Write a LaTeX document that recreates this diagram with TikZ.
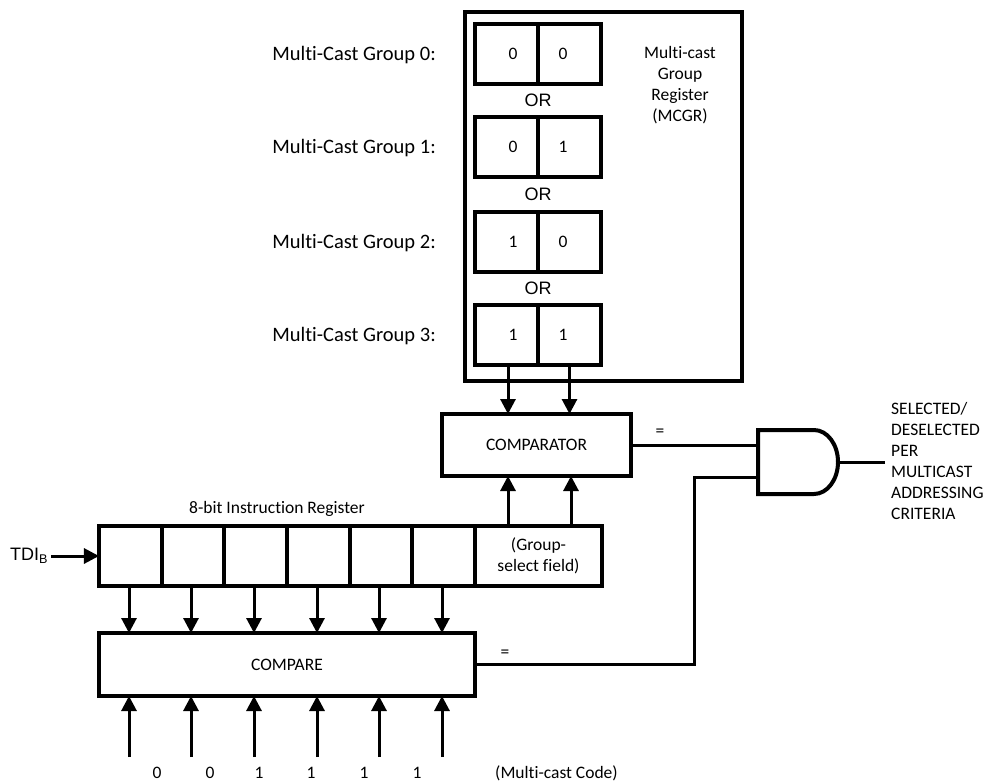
\documentclass[tikz,border=0pt]{standalone}
\usepackage{fontspec}
\setmainfont[Ligatures=NoCommon]{Carlito}
\newfontfamily\arialfont{Liberation Sans}
\usetikzlibrary{arrows.meta,positioning}
\tikzset{
    %Define standard arrow tip
    >={Triangle[length=15pt,width=15pt]},
    %Define style for boxes
    cell/.style={
           rectangle,
           draw=black, line width=4pt,
           outer sep=0pt,
           minimum height=60pt,
           font=\fontsize{17.5}{21}\selectfont,
           },
    bit/.style={
           cell,
           text width=22pt,
           inner xsep=20.5pt,
           },
    regcell/.style={
           cell,
           minimum width=62.67pt,
           inner sep=0pt,
           },
    block/.style={
           rectangle,
           draw=black, line width=4pt,
           outer sep=0pt,
           font=\fontsize{17.5}{21}\selectfont,
           },
    lab/.style={
           inner sep=0pt,
           font=\fontsize{17.5}{21}\selectfont,
           },
    grouplab/.style={
           inner sep=0pt,
           font=\fontsize{20.5}{24}\selectfont,
           },
    orlab/.style={
           inner sep=0pt,
           font=\arialfont\fontsize{18}{21}\selectfont,
           },
    % Define arrow style
    pil/.style={
           ->,
           line width=3pt,
           },
    wire/.style={
           line width=3pt,
           }
}
\begin{document}
\begin{tikzpicture}[x=1pt,y=-1pt]
\useasboundingbox (0,0) rectangle (985,782);
% multi-cast group register
\node[block,minimum width=277pt,minimum height=369pt](mcgr) at (603.5,196.5){};
\node[bit,align=right](m00) at (506.5,54){0};
\node[bit,align=left,right=0pt of m00](m01){0};
\node[bit,align=right,below=33pt of m00](m10){0};
\node[bit,align=left,right=0pt of m10](m11){1};
\node[bit,align=right,below=35pt of m10](m20){1};
\node[bit,align=left,right=0pt of m20](m21){0};
\node[bit,align=right,below=33pt of m20](m30){1};
\node[bit,align=left,right=0pt of m30](m31){1};
\node[orlab,below=10pt of m00.south east](or1){OR};
\node[orlab,below=11pt of m10.south east](or2){OR};
\node[orlab,below=10pt of m20.south east](or3){OR};
\node[grouplab,left=39pt of m00,yshift=-1pt](g0){Multi-Cast Group 0:};
\node[grouplab,left=39pt of m10,yshift=-1pt](g1){Multi-Cast Group 1:};
\node[grouplab,left=39pt of m20,yshift=-1pt](g2){Multi-Cast Group 2:};
\node[grouplab,left=39pt of m30,yshift=-1pt](g3){Multi-Cast Group 3:};
\node[lab,align=center](mname) at (680,85){Multi-cast\\Group\\Register\\(MCGR)};
% comparator and gate
\node[block,minimum width=189pt,minimum height=62pt](cp) at (536.5,445){COMPARATOR};
\node[inner sep=0pt,minimum width=80pt,minimum height=64pt,outer sep=0pt](gate) at (798,462){};
\draw[line width=4pt] (gate.north west) -- ++(56,0) arc[x radius=24pt,y radius=32pt,start angle=90,end angle=-90] -- (gate.south west) -- cycle;
\node[lab,align=left,anchor=west](sel) at (891,461){SELECTED/\\DESELECTED\\PER\\MULTICAST\\ADDRESSING\\CRITERIA};
\coordinate(selend) at (885,462);
% instruction register
\node[regcell](r1) at (130.33,556){};
\node[regcell,right=0pt of r1](r2){};
\node[regcell,right=0pt of r2](r3){};
\node[regcell,right=0pt of r3](r4){};
\node[regcell,right=0pt of r4](r5){};
\node[regcell,right=0pt of r5](r6){};
\node[cell,align=center,minimum width=127pt,inner sep=0pt,right=0pt of r6](gsel){(Group-\\select field)};
\node[lab,above=9pt of r4.north west,xshift=-10pt](irname){8-bit Instruction Register};
\node[inner sep=0pt,font=\arialfont\fontsize{18}{21}\selectfont,anchor=west](tdi) at (10,556){TDI\textsubscript{B}};
\node[block,minimum width=376pt,minimum height=63pt](cmp) at (287,664.5){COMPARE};
\node[lab](eq1) at (660,433){=};
\node[lab](eq2) at (505,654){=};
% code bits
\node[lab](b1) at (157,773){0};
\node[lab](b2) at (210,773){0};
\node[lab](b3) at (259,773){1};
\node[lab](b4) at (311,773){1};
\node[lab](b5) at (364,773){1};
\node[lab](b6) at (417,773){1};
\node[lab,anchor=west](code) at (495,773){(Multi-cast Code)};
\coordinate(s1) at (129,757);
\coordinate(s2) at (191,757);
\coordinate(s3) at (254,757);
\coordinate(s4) at (317,757);
\coordinate(s5) at (379,757);
\coordinate(s6) at (442,757);
\coordinate(c1) at (508,526);
\coordinate(c2) at (571,526);
\coordinate(bend) at (694,477);
\path[pil]
	([xshift=1.5pt]m30.south) edge ([xshift=1.5pt]m30.south |- cp.north)
	(m31.south) edge (m31.south |- cp.north)
	(c1) edge (c1 |- cp.south)
	(c2) edge (c2 |- cp.south)
	(s1 |- r1.south) edge (s1 |- cmp.north)
	(s2 |- r1.south) edge (s2 |- cmp.north)
	(s3 |- r1.south) edge (s3 |- cmp.north)
	(s4 |- r1.south) edge (s4 |- cmp.north)
	(s5 |- r1.south) edge (s5 |- cmp.north)
	(s6 |- r1.south) edge (s6 |- cmp.north)
	(s1) edge (s1 |- cmp.south)
	(s2) edge (s2 |- cmp.south)
	(s3) edge (s3 |- cmp.south)
	(s4) edge (s4 |- cmp.south)
	(s5) edge (s5 |- cmp.south)
	(s6) edge (s6 |- cmp.south)
	(tdi.east |- r1.west) edge[shorten <=3pt] (r1.west);
\draw[wire] (cp.east) -- (cp.east -| gate.west);
\draw[wire] (cmp.east) -| (bend) -- (bend -| gate.west);
\draw[wire] (gate.east) -- (selend);
\end{tikzpicture}
\end{document}
